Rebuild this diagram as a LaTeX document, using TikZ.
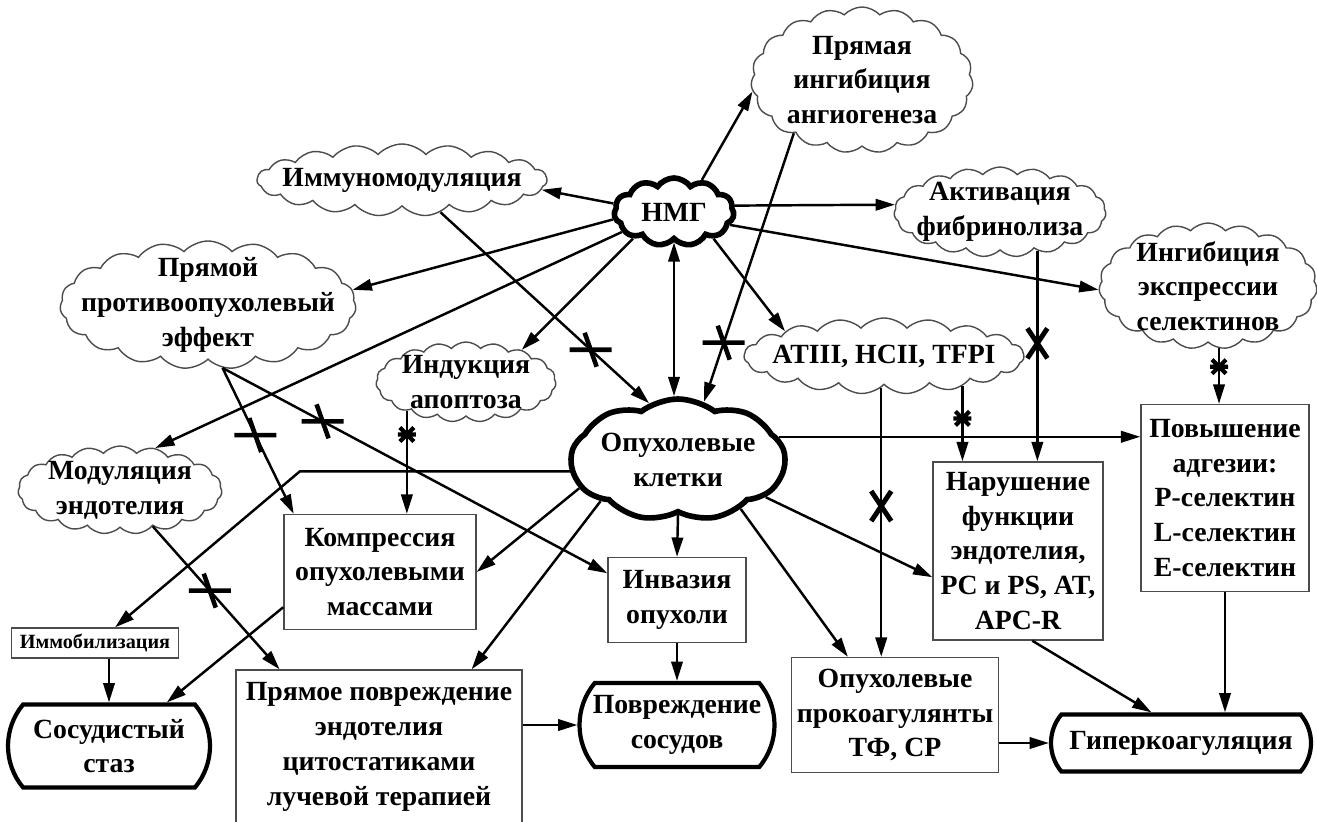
\documentclass[tikz,border=0pt]{standalone}
\usepackage{fontspec}
\setmainfont{Liberation Serif}
\usetikzlibrary{shapes.symbols,shapes.misc,arrows.meta,calc}

\tikzset{
	bx/.style 2 args	= {minimum width=#1*0.02cm, minimum height=#2*0.02cm},
	cl/.style		= {cloud, cloud puffs=19, cloud puff arc=95, cloud ignores aspect,
					draw=black!70, line width=0.8pt, inner sep=0pt},
	bigcl/.style		= {cl, draw=black, line width=3.2pt},
	box/.style		= {rectangle, draw=black!70, line width=0.8pt, align=center, inner sep=0pt},
	rbox/.style		= {rounded rectangle, rounded rectangle arc length=80, draw=black,
					line width=2.4pt, align=center, inner sep=0pt},
	link/.style		= {->, line width=1.4pt},
	xbar/.pic		= {\draw[line width=2.6pt] (-21,0) -- (21,0) (-6,-17) -- (6,17);},
	xsmall/.pic		= {\draw[line width=2.4pt] (-9,0) -- (9,0) (-7,-7) -- (7,7) (-7,7) -- (7,-7);},
	xcross/.pic		= {\draw[line width=2.8pt] (-10,-15) -- (10,15) (-10,15) -- (10,-15);}
}

\begin{document}
\begin{tikzpicture}[x=0.02cm, y=-0.02cm,
		font=\bfseries\fontsize{15.8}{19.8}\selectfont,
		>={Triangle[length=11pt,width=6.5pt]},
		every label/.append style={align=center}]
	%\draw[help lines, step=50] (0,0) grid (1317,821);
	\useasboundingbox (0,0) rectangle (1317,821);
	
	% clouds
	\node[bigcl, cloud puffs=11, cloud puff arc=110, bx={120}{68}, label={center:НМГ}] (hmg) at (674,212) {};
	\node[bigcl, cloud puffs=9, cloud puff arc=75, bx={214}{122},
		label={center:Опухолевые\\клетки}] (tumor) at (678,460) {};
	\node[cl, bx={222}{146}, label={center:Прямая\\ингибиция\\ангиогенеза}] (angio) at (862,80) {};
	\node[cl, bx={290}{72}, label={center:Иммуномодуляция}] (immuno) at (402,180) {};
	\node[cl, bx={212}{90}, label={center:Активация\\фибринолиза}] (fibr) at (1000,212) {};
	\node[cl, bx={218}{126}, label={center:Ингибиция\\экспрессии\\селектинов}] (selin) at (1208,286) {};
	\node[cl, bx={296}{128}, label={center:Прямой\\противоопухолевый\\эффект}] (antitum) at (208,305) {};
	\node[cl, bx={180}{80}, label={center:Индукция\\апоптоза}] (apopt) at (466,382) {};
	\node[cl, bx={280}{76}, label={center:{ATIII, HCII, TFPI}}] (atiii) at (884,356) {};
	\node[cl, bx={204}{88}, label={center:Модуляция\\эндотелия}] (endmod) at (120,490) {};
	
	% boxes
	\node[box, bx={192}{115}] (compr) at (380,572) {Компрессия\\опухолевыми\\массами};
	\node[box, bx={138}{85}] (invas) at (677,600) {Инвазия\\опухоли};
	\node[box, bx={286}{154}] (direct) at (379,747) {Прямое повреждение\\эндотелия\\цитостатиками\\лучевой терапией};
	\node[box, bx={167}{30}, font=\bfseries\fontsize{11.5}{14}\selectfont] (immob) at (95,643) {Иммобилизация};
	\node[box, bx={170}{178}] (impair) at (1018,551) {Нарушение\\функции\\эндотелия,\\PC и PS, AT,\\APC-R};
	\node[box, bx={168}{187}] (adhes) at (1225,498) {Повышение\\адгезии:\\P-селектин\\L-селектин\\E-селектин};
	\node[box, bx={207}{115}] (procoag) at (895,715) {Опухолевые\\прокоагулянты\\ТФ, СР};
	
	\node[rbox, bx={202}{83}] (stasis) at (109,746) {Сосудистый\\стаз};
	\node[rbox, bx={195}{84}] (vessdam) at (677,725) {Повреждение\\сосудов};
	\node[rbox, bx={260}{57}] (hyper) at (1181,743) {Гиперкоагуляция};
	
	% connectors
	\foreach \a/\b in {hmg.172/immuno.356, hmg.187/antitum.6, hmg.201/endmod.50, hmg.213/apopt.30,
		hmg.49/angio.186, hmg.6/fibr.176, hmg.347/selin.182, hmg.326/atiii.166,
		tumor.196/compr.east, tumor.208/direct.40, tumor.322/procoag.129, tumor.337/impair.197,
		tumor.south/invas.north, invas.south/vessdam.north, compr.200/stasis.37, impair.279/hyper.134}
		{\draw[link] (\a) -- (\b);}
	
	\foreach \a/\b/\p/\m in {angio.218/tumor.66/.78/xbar, immuno.320/tumor.117/.72/xbar,
		antitum.283/compr.146/.46/xbar, antitum.283/invas.159/.26/xbar, endmod.312/direct.142/.45/xbar}{
		\draw[link] (\a) -- (\b);
		\path ($(\a)!\p!(\b)$) pic{\m};
	}
	
	\foreach \a/\b/\p/\m in {apopt.206/compr/.23/xsmall, atiii.339/impair/.43/xsmall,
		selin.280/adhes/.33/xsmall, fibr.314/impair/.44/xcross, atiii.265/procoag/.44/xcross}{
		\draw[link] (\a) -- (\a |- \b.north);
		\path ($(\a)!\p!(\a |- \b.north)$) pic{\m};
	}
	
	\draw[link, <->] (hmg.south) -- (hmg.south |- tumor.north);
	\draw[link] (tumor.13) -- (tumor.13 -| adhes.west);
	\draw[link] (tumor.186) -- ++(-270,0) -- (immob.38);
	\draw[link] (stasis.north |- immob.south) -- (stasis.north);
	\draw[link] (direct.east |- vessdam.west) -- (vessdam.west);
	\draw[link] (procoag.east |- hyper.west) -- (hyper.west);
	\draw[link] (adhes.south) -- (adhes.south |- hyper.north);
\end{tikzpicture}
\end{document}
